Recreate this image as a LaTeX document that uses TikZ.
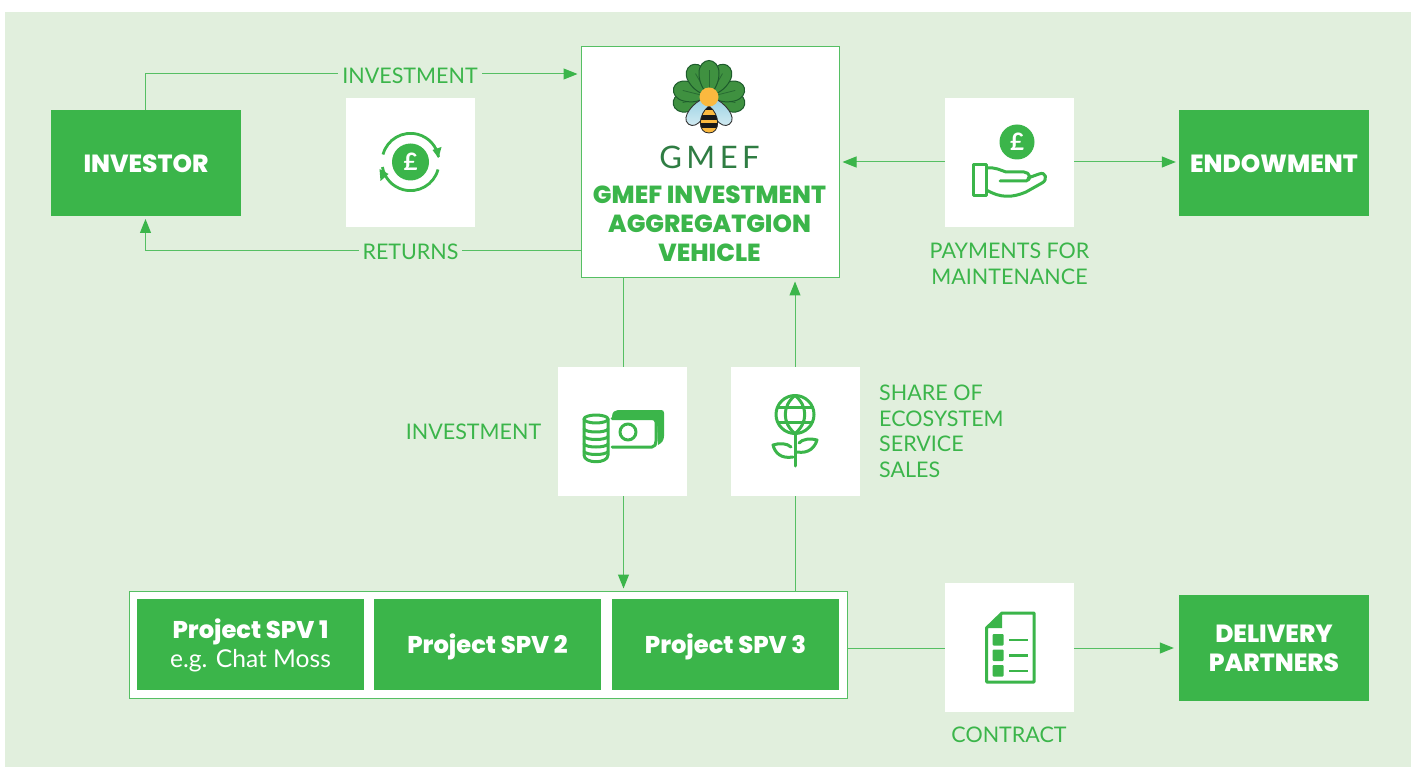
\documentclass[tikz,border=0pt]{standalone}
\usepackage{fontspec}
\setmainfont{Lato}
\newfontfamily\heavy{Poppins}[UprightFont=* ExtraBold]
\usetikzlibrary{arrows.meta,calc}
\definecolor{gmgreen}{HTML}{3BB54A}
\definecolor{linegreen}{HTML}{55BF63}
\definecolor{bggreen}{HTML}{E1EFDD}
\definecolor{leaf}{HTML}{3F9140}
\definecolor{leafdk}{HTML}{1D5B2C}
\definecolor{honey}{HTML}{FBB93F}
\definecolor{wingdk}{HTML}{9BD2E4}
\definecolor{winglt}{HTML}{DCEFF4}
\definecolor{gmefgrey}{HTML}{2F7D43}
\newcommand{\drop}[2]{\raisebox{-#1pt}[0pt][0pt]{#2}}
\tikzset{
  x=1pt,y=-1pt,
  solidbox/.style={fill=gmgreen,text=white,minimum width=190pt,minimum height=106pt,inner sep=0pt,align=center,font=\fontsize{24.8}{29}\selectfont\heavy},
  spvbox/.style={fill=gmgreen,text=white,minimum width=227pt,minimum height=91pt,inner sep=0pt,align=center,font=\fontsize{24.2}{28}\selectfont\heavy},
  iconbox/.style={fill=white,minimum width=129pt,minimum height=129pt,inner sep=0pt},
  lbl/.style={text=gmgreen,font=\fontsize{21.5}{25.6}\selectfont,inner sep=0pt},
  gaplbl/.style={lbl,fill=bggreen,inner xsep=4pt,inner ysep=3pt},
  conn/.style={draw=linegreen,line width=1pt},
  arr/.style={conn,-{Triangle[length=14pt,width=11pt,color=gmgreen,fill=gmgreen]}},
  ic/.style={draw=gmgreen,line width=3pt,line cap=round,line join=round},
  petal/.style={fill=leaf,draw=leafdk,line width=1pt},
}
\begin{document}
\begin{tikzpicture}
\useasboundingbox (0,0) rectangle (1416,767);
\fill[white] (0,0) rectangle (1416,767);
\fill[bggreen] (5,12) rectangle (1411,767);

% nodes
\node[solidbox] (investor) at (146,163) {\drop{9.6}{INVESTOR}};
\node[solidbox] (endow) at (1274,163) {\drop{9.6}{ENDOWMENT}};
\node[solidbox] (delivery) at (1274,648) {DELIVERY\\PARTNERS};
\node[fill=white,draw=linegreen,line width=1pt,minimum width=258pt,minimum height=231pt,inner sep=0pt] (gmef) at (710,162.5) {};
\node[fill=white,draw=linegreen,line width=1pt,minimum width=718pt,minimum height=107pt,inner sep=0pt] (spvs) at (488,644.5) {};
\node[spvbox] (spva) at (250.5,644.5) {\rule{0pt}{21pt}Project SPV 1\\[1pt]{\fontsize{24.6}{26}\selectfont\fontspec{Lato} e.g. Chat Moss}};
\node[spvbox] (spvb) at (487.5,644.5) {\drop{8.8}{Project SPV 2}};
\node[spvbox] (spvc) at (725.5,644.5) {\drop{8.8}{Project SPV 3}};

% connectors
\coordinate (invTop) at (145.5,110);
\coordinate (invBot) at (145.5,219);
\draw[arr] (invTop) |- ($(gmef.west |- 0,74)+(-3,0)$);
\draw[arr] (gmef.west |- 0,251) -| (invBot);
\node[iconbox] (ihand) at (1009.5,162.5) {};
\node[iconbox] (icycle) at (410.5,162.5) {};
\node[iconbox] (icash) at (622.5,431.5) {};
\node[iconbox] (iplant) at (795.5,431.5) {};
\node[iconbox] (icontract) at (1009.5,647.5) {};
\coordinate (cashx) at (623.5,0);
\coordinate (plantx) at (795,0);
\draw[arr] (ihand.west |- 0,162) -- ($(gmef.east |- 0,162)+(3,0)$);
\draw[arr] (ihand.east |- 0,162) -- ($(endow.west |- 0,162)+(-3,0)$);
\draw[conn] (gmef.south -| cashx) -- (icash.north -| cashx);
\draw[arr] (icash.south -| cashx) -- ($(spvs.north -| cashx)+(0,-2)$);
\draw[conn] (spvs.north -| plantx) -- (iplant.south -| plantx);
\draw[arr] (iplant.north -| plantx) -- ($(gmef.south -| plantx)+(0,3)$);
\draw[conn] (spvs.east |- 0,648) -- (icontract.west |- 0,648);
\draw[arr] (icontract.east |- 0,648) -- ($(delivery.west |- 0,648)+(-5,0)$);

% labels
\node[gaplbl] (l1) at (410,75.5) {INVESTMENT};
\node[gaplbl] (l2) at (410.5,251.5) {RETURNS};
\node[lbl,align=center] (l3) at (1009.5,264) {PAYMENTS FOR\\MAINTENANCE};
\node[lbl] (l4) at (473.5,431.5) {INVESTMENT};
\node[lbl,align=left,anchor=west] (l5) at (879,431.3) {SHARE OF\\ECOSYSTEM\\SERVICE\\SALES};
\node[lbl] (l6) at (1009,734.5) {CONTRACT};

% GMEF text
\node[text=gmefgrey,font=\fontsize{31}{31}\selectfont,inner sep=0pt] (gt) at (709.5,157) {G\hspace{4.5pt}M\hspace{4.5pt}E\hspace{4.5pt}F};
\node[text=gmgreen,font=\fontsize{24.7}{29}\selectfont\heavy,align=center,inner sep=0pt] (gv) at (709.5,224) {GMEF INVESTMENT\\AGGREGATGION\\VEHICLE};

% logo
\begin{scope}[shift={(709,97)}]
  \foreach \a in {-102,102,-76,76,-30,30,0}{
    \begin{scope}[rotate=\a]
      \path[petal] (0,0) .. controls (-6,-8) and (-10,-14) .. (-10,-24) .. controls (-10,-32) and (-5,-36.5) .. (0,-36.5) .. controls (5,-36.5) and (10,-32) .. (10,-24) .. controls (10,-14) and (6,-8) .. (0,0);
      \draw[leafdk,opacity=.7,line width=.8pt] (0,-4) -- (0,-27);
    \end{scope}
  }
  \foreach \a in {-37,37}{
    \begin{scope}[rotate=\a]
      \path[top color=wingdk,bottom color=winglt,draw=black!80,line width=.9pt] (-3,4) .. controls (-9,12) and (-11,34) .. (0,34) .. controls (11,34) and (9,12) .. (3,4) -- cycle;
    \end{scope}
  }
  \begin{scope}
    \clip (0,9) .. controls (-11,17) and (-12,36) .. (0,36) .. controls (12,36) and (11,17) .. (0,9) -- cycle;
    \fill[honey] (-12,8) rectangle (12,38);
    \fill[black!90] (-12,8) rectangle (12,13);
    \fill[black!90] (-12,18) rectangle (12,23);
    \fill[black!90] (-12,26.5) rectangle (12,31);
  \end{scope}
  \draw[black!85,line width=.8pt] (0,9) .. controls (-11,17) and (-12,36) .. (0,36) .. controls (12,36) and (11,17) .. (0,9) -- cycle;
  \fill[honey] (0,0) circle (9.5pt);
\end{scope}

% cycle icon
\begin{scope}[shift={(410.5,162)}]
  \fill[gmgreen] (0,0) circle (18.5);
  \node[text=white,font=\fontsize{24}{24}\selectfont\bfseries,inner sep=0pt] (p1) at (0,0) {£};
  \draw[gmgreen,line width=2.8pt] (-27.5,-7.5) arc[start angle=195,end angle=350,radius=28.5];
  \draw[gmgreen,line width=2.8pt] (27.5,7.5) arc[start angle=15,end angle=170,radius=28.5];
  \fill[gmgreen] (22,-12) -- (31,-15) -- (28,-4) -- cycle;
  \fill[gmgreen] (-22,12) -- (-31,7) -- (-30,19) -- cycle;
\end{scope}

% hand icon
\begin{scope}[shift={(940,90)}]
  \fill[gmgreen] (77,52) circle (17.5);
  \node[text=white,font=\fontsize{24}{24}\selectfont\bfseries,inner sep=0pt] (p2) at (77,52) {£};
  \draw[ic] (33.5,74.5) rectangle (46.5,106);
  \draw[ic] (46.5,78) .. controls (55,77) and (60,80) .. (66,82) -- (84,82) .. controls (90,82) and (92,90) .. (86,91) -- (60,91);
  \draw[ic] (88,88) -- (99,84) .. controls (106,81) and (108,90) .. (102,93) -- (86,102) .. controls (72,108) and (60,108) .. (46.5,100);
\end{scope}

% cash icon
\begin{scope}[shift={(550,360)}]
  \draw[ic] (34,59) -- (34,95) .. controls (34,104) and (58,104) .. (58,95) -- (58,59);
  \draw[ic] (46,59) ellipse[x radius=12,y radius=4];
  \foreach \y in {69,76.5,84,91.5}{
    \draw[ic] (34,\y) .. controls (36,\y+4) and (56,\y+4) .. (58,\y);
  }
  \fill[gmgreen] (62,57) .. controls (62,52) and (65,50) .. (68,50) -- (111,50) .. controls (113,50) and (114,51) .. (114,53) -- (114,76) .. controls (114,80) and (112,83) .. (108,85) -- (107,60) -- (62,57) -- cycle;
  \draw[ic] (62,58.5) -- (102,58.5) .. controls (105,58.5) and (106,60) .. (106,62) -- (106,81) .. controls (106,84) and (105,87) .. (102,87) -- (62,87);
  \draw[ic] (78,72) circle (8);
\end{scope}

% plant icon
\begin{scope}[shift={(550,360)}]
  \draw[ic] (245,54.5) circle (19);
  \draw[ic] (228,47) -- (262,47);
  \draw[ic] (228,62) -- (262,62);
  \draw[ic] (245,35.5) .. controls (232,46) and (232,63) .. (245,73.5);
  \draw[ic] (245,35.5) .. controls (258,46) and (258,63) .. (245,73.5);
  \draw[ic] (245,73.5) -- (245,106);
  \draw[ic] (243,97) .. controls (231,99) and (225,93) .. (223,85) .. controls (229,83) and (237,83) .. (241,87);
  \draw[ic] (247,92) .. controls (259,94) and (265,87) .. (267,80) .. controls (261,78) and (252,79) .. (249,83);
\end{scope}

% contract icon
\begin{scope}[shift={(940,580)}]
  \draw[ic] (46.5,48) -- (62,33) -- (94,33) -- (94,102) -- (46.5,102) -- cycle;
  \fill[gmgreen] (46.5,48) -- (62,33) -- (62,48) -- cycle;
  \foreach \y in {60,75.5,91}{
    \fill[gmgreen,rounded corners=1pt] (52.5,\y-6) rectangle (63.5,\y+5.5);
    \draw[gmgreen,line width=2.4pt] (69,\y) -- (88,\y);
  }
\end{scope}
\end{tikzpicture}
\end{document}
